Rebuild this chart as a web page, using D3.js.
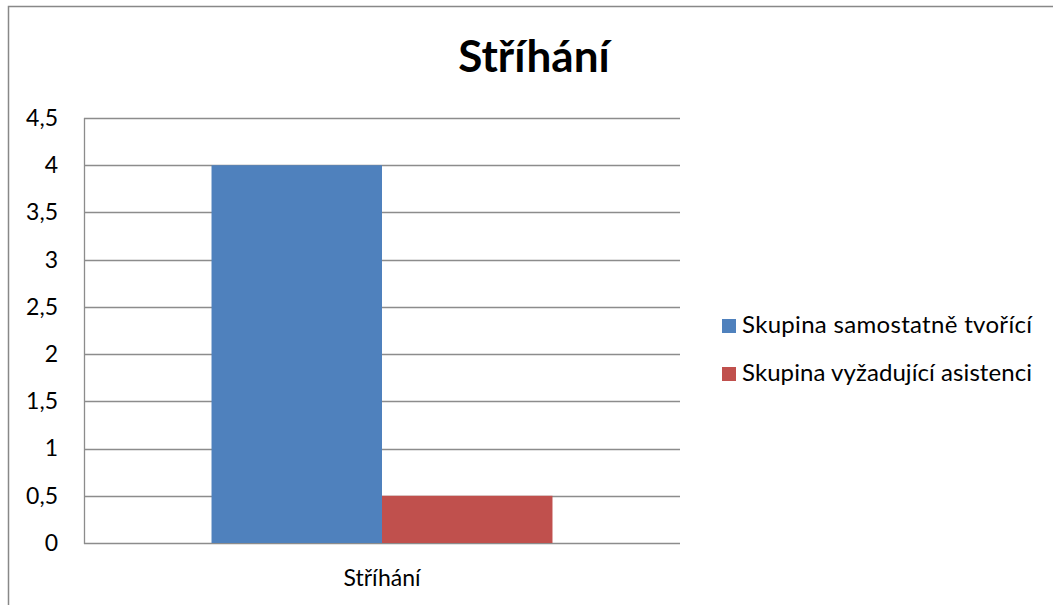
<!DOCTYPE html>
<html>
<head>
<meta charset="utf-8">
<script src="https://cdn.jsdelivr.net/npm/d3@7"></script>
<style>
  body { margin: 0; background: #fff; }
  svg { display: block; font-family: Lato, "Open Sans", sans-serif; }
</style>
</head>
<body>
<div id="chart"></div>
<script>
const title = 'Stříhání';
const categories = ['Stříhání'];
const seriesNames = ['Skupina samostatně tvořící', 'Skupina vyžadující asistenci'];
const seriesValues = [[4], [0.5]];
const seriesColors = ['#4F81BD', '#C0504D'];
const yTicks = [0, 0.5, 1, 1.5, 2, 2.5, 3, 3.5, 4, 4.5];

const width = 1053, height = 605;
const plot = {left: 84, right: 680, top: 118, bottom: 543};
const fontSize = 23;

const svg = d3.select('#chart').append('svg')
    .attr('width', width)
    .attr('height', height);

// outer chart frame
svg.append('rect')
    .attr('x', 8.5).attr('y', 6.5)
    .attr('width', 1100).attr('height', 700)
    .attr('fill', 'none')
    .attr('stroke', '#888')
    .attr('stroke-width', 1.5);

svg.append('text')
    .attr('x', 534).attr('y', 72)
    .attr('text-anchor', 'middle')
    .attr('font-size', 44)
    .attr('font-weight', 'bold')
    .text(title);

const yScale = d3.scaleLinear()
    .domain([0, 4.5])
    .range([plot.bottom, plot.top]);

const x0 = d3.scaleBand()
    .domain(categories)
    .range([plot.left, plot.right])
    .paddingInner(0)
    .paddingOuter(0.374);

const x1 = d3.scaleBand()
    .domain(seriesNames)
    .range([0, x0.bandwidth()]);

// gridlines
svg.append('g')
    .selectAll('line')
    .data(yTicks)
    .enter().append('line')
    .attr('x1', plot.left).attr('x2', plot.right)
    .attr('y1', d => Math.round(yScale(d)) + 0.5)
    .attr('y2', d => Math.round(yScale(d)) + 0.5)
    .attr('stroke', '#8c8c8c')
    .attr('stroke-width', 1.3);

// bars
const groups = svg.append('g')
    .selectAll('g')
    .data(categories)
    .enter().append('g')
    .attr('transform', d => `translate(${x0(d)},0)`);

groups.selectAll('rect')
    .data((d, i) => seriesNames.map((s, j) => ({s, j, v: seriesValues[j][i]})))
    .enter().append('rect')
    .attr('x', d => x1(d.s))
    .attr('width', x1.bandwidth())
    .attr('y', d => yScale(d.v))
    .attr('height', d => yScale(0) - yScale(d.v))
    .attr('fill', d => seriesColors[d.j]);

// y axis
const yAxis = d3.axisLeft(yScale)
    .tickValues(yTicks)
    .tickSize(0)
    .tickPadding(26)
    .tickFormat(d => String(d).replace('.', ','));

svg.append('g')
    .attr('transform', `translate(${plot.left},0)`)
    .call(yAxis)
    .call(g => g.select('.domain').remove())
    .selectAll('text')
    .attr('font-size', fontSize)
    .attr('font-family', 'Lato, "Open Sans", sans-serif')
    .attr('fill', '#000');

svg.append('line')
    .attr('x1', plot.left + 0.5).attr('x2', plot.left + 0.5)
    .attr('y1', plot.top).attr('y2', plot.bottom + 1)
    .attr('stroke', '#8c8c8c')
    .attr('stroke-width', 1.3);

// x axis
const xAxis = d3.axisBottom(x0).tickSize(0).tickPadding(27);
svg.append('g')
    .attr('transform', `translate(0,${plot.bottom})`)
    .call(xAxis)
    .call(g => g.select('.domain').remove())
    .selectAll('text')
    .attr('font-size', fontSize)
    .attr('font-family', 'Lato, "Open Sans", sans-serif')
    .attr('fill', '#000');

// legend
const legend = svg.append('g')
    .selectAll('g')
    .data(seriesNames)
    .enter().append('g')
    .attr('transform', (d, i) => `translate(722,${319 + i * 48})`);

legend.append('rect')
    .attr('width', 14).attr('height', 14)
    .attr('fill', (d, i) => seriesColors[i]);

legend.append('text')
    .attr('x', 20).attr('y', 14)
    .attr('font-size', 24)
    .attr('textLength', 290)
    .attr('lengthAdjust', 'spacing')
    .text(d => d);
</script>
</body>
</html>
